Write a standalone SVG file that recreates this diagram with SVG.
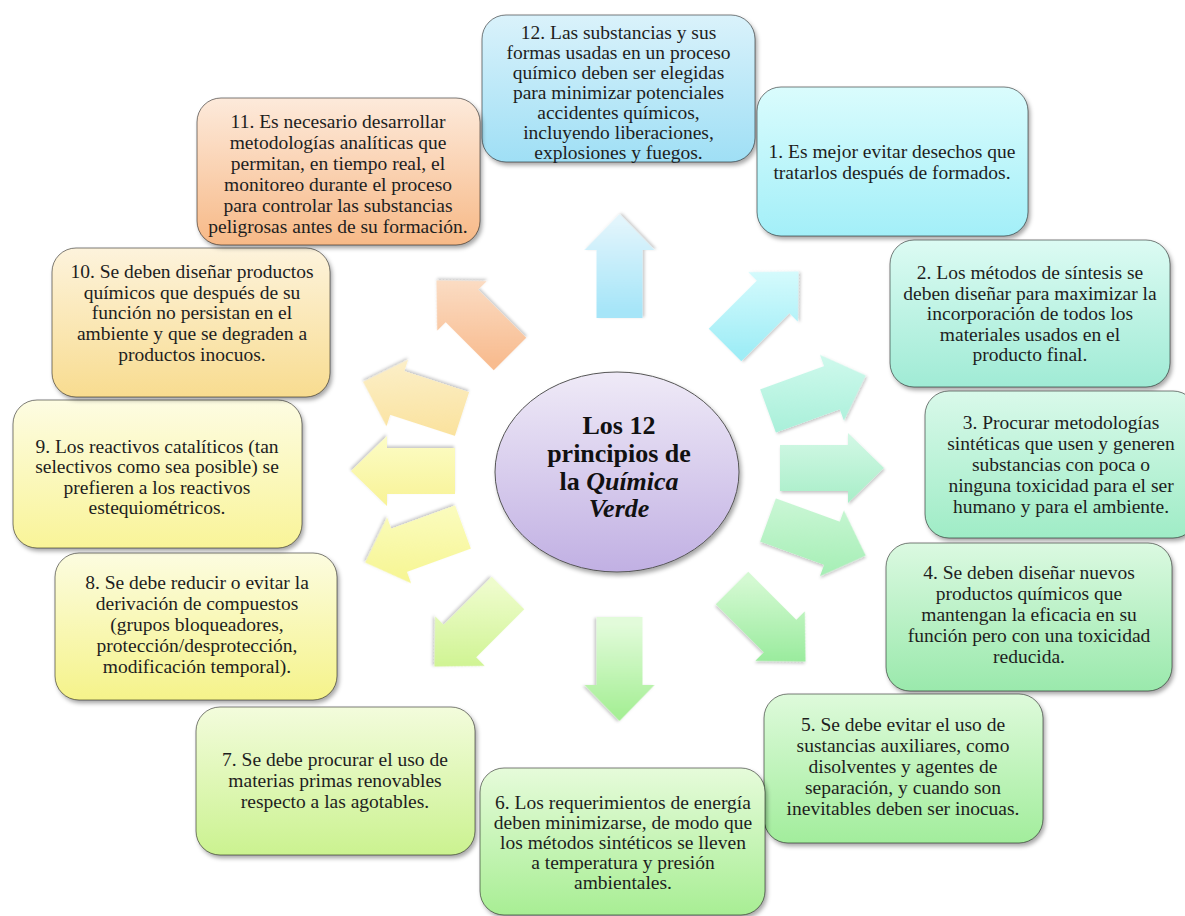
<svg xmlns="http://www.w3.org/2000/svg" width="1185" height="916" viewBox="0 0 1185 916">
<defs>
<filter id="sh" x="-10%" y="-10%" width="125%" height="130%"><feDropShadow dx="2" dy="3" stdDeviation="2" flood-color="#000" flood-opacity="0.35"/></filter>
<filter id="ash" x="-10%" y="-10%" width="125%" height="130%"><feDropShadow dx="1" dy="2" stdDeviation="1.5" flood-color="#000" flood-opacity="0.22"/></filter>
<path id="arr" d="M0,-23 L68,-23 L68,-35 L104,0 L68,35 L68,23 L0,23 Z"/>
<linearGradient id="g12" x1="0" y1="0" x2="0" y2="1"><stop offset="0" stop-color="#daf2fb"/><stop offset="1" stop-color="#9fdff5"/></linearGradient>
<linearGradient id="g1" x1="0" y1="0" x2="0" y2="1"><stop offset="0" stop-color="#dafcfd"/><stop offset="1" stop-color="#a3eff8"/></linearGradient>
<linearGradient id="g2" x1="0" y1="0" x2="0" y2="1"><stop offset="0" stop-color="#dcfbf3"/><stop offset="1" stop-color="#a0ebd5"/></linearGradient>
<linearGradient id="g3" x1="0" y1="0" x2="0" y2="1"><stop offset="0" stop-color="#d9f9ea"/><stop offset="1" stop-color="#9fecc6"/></linearGradient>
<linearGradient id="g4" x1="0" y1="0" x2="0" y2="1"><stop offset="0" stop-color="#dbf9e1"/><stop offset="1" stop-color="#9ae9ac"/></linearGradient>
<linearGradient id="g5" x1="0" y1="0" x2="0" y2="1"><stop offset="0" stop-color="#defadb"/><stop offset="1" stop-color="#a2ed9c"/></linearGradient>
<linearGradient id="g6" x1="0" y1="0" x2="0" y2="1"><stop offset="0" stop-color="#e6fbda"/><stop offset="1" stop-color="#a8ee94"/></linearGradient>
<linearGradient id="g7" x1="0" y1="0" x2="0" y2="1"><stop offset="0" stop-color="#f3fcdc"/><stop offset="1" stop-color="#cbf290"/></linearGradient>
<linearGradient id="g8" x1="0" y1="0" x2="0" y2="1"><stop offset="0" stop-color="#fcfce0"/><stop offset="1" stop-color="#f5f38a"/></linearGradient>
<linearGradient id="g9" x1="0" y1="0" x2="0" y2="1"><stop offset="0" stop-color="#fdfce2"/><stop offset="1" stop-color="#f9f498"/></linearGradient>
<linearGradient id="g10" x1="0" y1="0" x2="0" y2="1"><stop offset="0" stop-color="#fdf3dc"/><stop offset="1" stop-color="#f8dc90"/></linearGradient>
<linearGradient id="g11" x1="0" y1="0" x2="0" y2="1"><stop offset="0" stop-color="#fdeadb"/><stop offset="1" stop-color="#f7b987"/></linearGradient>
<linearGradient id="gc" x1="0" y1="0" x2="0" y2="1"><stop offset="0" stop-color="#efeaf7"/><stop offset="1" stop-color="#c1b0e3"/></linearGradient>
<linearGradient id="a12" gradientUnits="userSpaceOnUse" x1="97" y1="0" x2="7" y2="0"><stop offset="0" stop-color="#e2f5fc"/><stop offset="1" stop-color="#a6e5f8"/></linearGradient>
<linearGradient id="a1" gradientUnits="userSpaceOnUse" x1="83.8" y1="-31.8" x2="20.2" y2="31.8"><stop offset="0" stop-color="#dafcfd"/><stop offset="1" stop-color="#9fedf6"/></linearGradient>
<linearGradient id="a2" gradientUnits="userSpaceOnUse" x1="67.4" y1="-42.3" x2="36.6" y2="42.3"><stop offset="0" stop-color="#d2faee"/><stop offset="1" stop-color="#a6efd8"/></linearGradient>
<linearGradient id="a3" gradientUnits="userSpaceOnUse" x1="52" y1="-35" x2="52" y2="35"><stop offset="0" stop-color="#d3f8e6"/><stop offset="1" stop-color="#a8eec8"/></linearGradient>
<linearGradient id="a4" gradientUnits="userSpaceOnUse" x1="36.6" y1="-42.3" x2="67.4" y2="42.3"><stop offset="0" stop-color="#cdf7d8"/><stop offset="1" stop-color="#a2eeb2"/></linearGradient>
<linearGradient id="a5" gradientUnits="userSpaceOnUse" x1="20.2" y1="-31.8" x2="83.8" y2="31.8"><stop offset="0" stop-color="#d4f9d2"/><stop offset="1" stop-color="#94ea98"/></linearGradient>
<linearGradient id="a6" gradientUnits="userSpaceOnUse" x1="7" y1="0" x2="97" y2="0"><stop offset="0" stop-color="#e2fbda"/><stop offset="1" stop-color="#a6ef96"/></linearGradient>
<linearGradient id="a7" gradientUnits="userSpaceOnUse" x1="20.2" y1="31.8" x2="83.8" y2="-31.8"><stop offset="0" stop-color="#eefccc"/><stop offset="1" stop-color="#cdf38e"/></linearGradient>
<linearGradient id="a8" gradientUnits="userSpaceOnUse" x1="36.6" y1="42.3" x2="67.4" y2="-42.3"><stop offset="0" stop-color="#fbfcc2"/><stop offset="1" stop-color="#f6f58e"/></linearGradient>
<linearGradient id="a9" gradientUnits="userSpaceOnUse" x1="52" y1="35" x2="52" y2="-35"><stop offset="0" stop-color="#fcfcc6"/><stop offset="1" stop-color="#f8f396"/></linearGradient>
<linearGradient id="a10" gradientUnits="userSpaceOnUse" x1="67.4" y1="42.3" x2="36.6" y2="-42.3"><stop offset="0" stop-color="#fcf0cc"/><stop offset="1" stop-color="#fae19a"/></linearGradient>
<linearGradient id="a11" gradientUnits="userSpaceOnUse" x1="83.8" y1="31.8" x2="20.2" y2="-31.8"><stop offset="0" stop-color="#fbdfc8"/><stop offset="1" stop-color="#f8bc90"/></linearGradient>
</defs>
<style>
.box{stroke:#000;stroke-opacity:0.5;stroke-width:1;filter:url(#sh)}
.t{font-family:"Liberation Serif","Times New Roman",serif;font-size:19.5px;fill:#1e1e1e;text-anchor:middle}
.c{font-family:"Liberation Serif","Times New Roman",serif;font-size:26px;font-weight:bold;fill:#111;text-anchor:middle}
.ar{filter:url(#ash)}
</style>
<rect width="1185" height="916" fill="#fff"/>

<g id="connectors">
<use href="#arr" class="ar" fill="url(#a12)" transform="translate(619.5,318) rotate(-90)"/>
<use href="#arr" class="ar" fill="url(#a1)" transform="translate(725,345) rotate(-45)"/>
<use href="#arr" class="ar" fill="url(#a2)" transform="translate(768,411) rotate(-20)"/>
<use href="#arr" class="ar" fill="url(#a3)" transform="translate(780,468) rotate(0)"/>
<use href="#arr" class="ar" fill="url(#a4)" transform="translate(768,520) rotate(20)"/>
<use href="#arr" class="ar" fill="url(#a5)" transform="translate(732,588) rotate(45)"/>
<use href="#arr" class="ar" fill="url(#a6)" transform="translate(619.5,617) rotate(90)"/>
<use href="#arr" class="ar" fill="url(#a7)" transform="translate(508,593) rotate(135)"/>
<use href="#arr" class="ar" fill="url(#a8)" transform="translate(463,527) rotate(160)"/>
<use href="#arr" class="ar" fill="url(#a9)" transform="translate(455,471) rotate(180)"/>
<use href="#arr" class="ar" fill="url(#a10)" transform="translate(462,414) rotate(198)"/>
<use href="#arr" class="ar" fill="url(#a11)" transform="translate(510,354) rotate(225)"/>
</g>

<g id="center">
<ellipse cx="617" cy="472" rx="122" ry="100" fill="url(#gc)" stroke="#555" stroke-width="1" filter="url(#sh)"/>
<text class="c" x="619" y="434">Los 12</text>
<text class="c" x="619" y="462">principios de</text>
<text class="c" x="619" y="490">la <tspan font-style="italic">Química</tspan></text>
<text class="c" x="619" y="517" font-style="italic">Verde</text>
</g>

<g id="p12">
<rect class="box" x="482" y="15" width="273" height="147" rx="24" fill="url(#g12)"/>
<text class="t" x="618.5" y="39">12. Las substancias y sus</text>
<text class="t" x="618.5" y="59">formas usadas en un proceso</text>
<text class="t" x="618.5" y="79">químico deben ser elegidas</text>
<text class="t" x="618.5" y="99">para minimizar potenciales</text>
<text class="t" x="618.5" y="119">accidentes químicos,</text>
<text class="t" x="618.5" y="139">incluyendo liberaciones,</text>
<text class="t" x="618.5" y="159">explosiones y fuegos.</text>
</g>

<g id="p1">
<rect class="box" x="757" y="87" width="271" height="149" rx="24" fill="url(#g1)"/>
<text class="t" x="892" y="158">1. Es mejor evitar desechos que</text>
<text class="t" x="892" y="179">tratarlos después de formados.</text>
</g>

<g id="p2">
<rect class="box" x="890" y="240" width="280" height="147" rx="24" fill="url(#g2)"/>
<text class="t" x="1030" y="279">2. Los métodos de síntesis se</text>
<text class="t" x="1030" y="299.5">deben diseñar para maximizar la</text>
<text class="t" x="1030" y="320">incorporación de todos los</text>
<text class="t" x="1030" y="340.5">materiales usados en el</text>
<text class="t" x="1030" y="361">producto final.</text>
</g>

<g id="p3">
<rect class="box" x="925" y="391" width="272" height="147" rx="24" fill="url(#g3)"/>
<text class="t" x="1061" y="429">3. Procurar metodologías</text>
<text class="t" x="1061" y="450">sintéticas que usen y generen</text>
<text class="t" x="1061" y="471">substancias con poca o</text>
<text class="t" x="1061" y="492">ninguna toxicidad para el ser</text>
<text class="t" x="1061" y="513">humano y para el ambiente.</text>
</g>

<g id="p4">
<rect class="box" x="886" y="543" width="286" height="148" rx="24" fill="url(#g4)"/>
<text class="t" x="1029" y="579">4. Se deben diseñar nuevos</text>
<text class="t" x="1029" y="600">productos químicos que</text>
<text class="t" x="1029" y="621">mantengan la eficacia en su</text>
<text class="t" x="1029" y="642">función pero con una toxicidad</text>
<text class="t" x="1029" y="663">reducida.</text>
</g>

<g id="p5">
<rect class="box" x="764" y="694" width="279" height="149" rx="24" fill="url(#g5)"/>
<text class="t" x="903" y="731">5. Se debe evitar el uso de</text>
<text class="t" x="903" y="752">sustancias auxiliares, como</text>
<text class="t" x="903" y="773">disolventes y agentes de</text>
<text class="t" x="903" y="794">separación, y cuando son</text>
<text class="t" x="903" y="815">inevitables deben ser inocuas.</text>
</g>

<g id="p6">
<rect class="box" x="480" y="768" width="285" height="147" rx="24" fill="url(#g6)"/>
<text class="t" x="623" y="809">6. Los requerimientos de energía</text>
<text class="t" x="623" y="829">deben minimizarse, de modo que</text>
<text class="t" x="623" y="849">los métodos sintéticos se lleven</text>
<text class="t" x="623" y="869">a temperatura y presión</text>
<text class="t" x="623" y="889">ambientales.</text>
</g>

<g id="p7">
<rect class="box" x="196" y="707" width="279" height="148" rx="24" fill="url(#g7)"/>
<text class="t" x="335" y="766">7. Se debe procurar el uso de</text>
<text class="t" x="335" y="787">materias primas renovables</text>
<text class="t" x="335" y="808">respecto a las agotables.</text>
</g>

<g id="p8">
<rect class="box" x="55" y="553" width="282" height="147" rx="24" fill="url(#g8)"/>
<text class="t" x="197" y="589">8. Se debe reducir o evitar la</text>
<text class="t" x="197" y="610">derivación de compuestos</text>
<text class="t" x="197" y="631">(grupos bloqueadores,</text>
<text class="t" x="197" y="652">protección/desprotección,</text>
<text class="t" x="197" y="673">modificación temporal).</text>
</g>

<g id="p9">
<rect class="box" x="13" y="400" width="289" height="148" rx="24" fill="url(#g9)"/>
<text class="t" x="157" y="453">9. Los reactivos catalíticos (tan</text>
<text class="t" x="157" y="473">selectivos como sea posible) se</text>
<text class="t" x="157" y="494">prefieren a los reactivos</text>
<text class="t" x="157" y="514">estequiométricos.</text>
</g>

<g id="p10">
<rect class="box" x="52" y="248" width="278" height="149" rx="24" fill="url(#g10)"/>
<text class="t" x="192" y="278">10. Se deben diseñar productos</text>
<text class="t" x="192" y="299">químicos que después de su</text>
<text class="t" x="192" y="319">función no persistan en el</text>
<text class="t" x="192" y="340">ambiente y que se degraden a</text>
<text class="t" x="192" y="361">productos inocuos.</text>
</g>

<g id="p11">
<rect class="box" x="197" y="98" width="283" height="147" rx="24" fill="url(#g11)"/>
<text class="t" x="338" y="128">11. Es necesario desarrollar</text>
<text class="t" x="338" y="149">metodologías analíticas que</text>
<text class="t" x="338" y="170">permitan, en tiempo real, el</text>
<text class="t" x="338" y="191">monitoreo durante el proceso</text>
<text class="t" x="338" y="212">para controlar las substancias</text>
<text class="t" x="338" y="233">peligrosas antes de su formación.</text>
</g>
</svg>
